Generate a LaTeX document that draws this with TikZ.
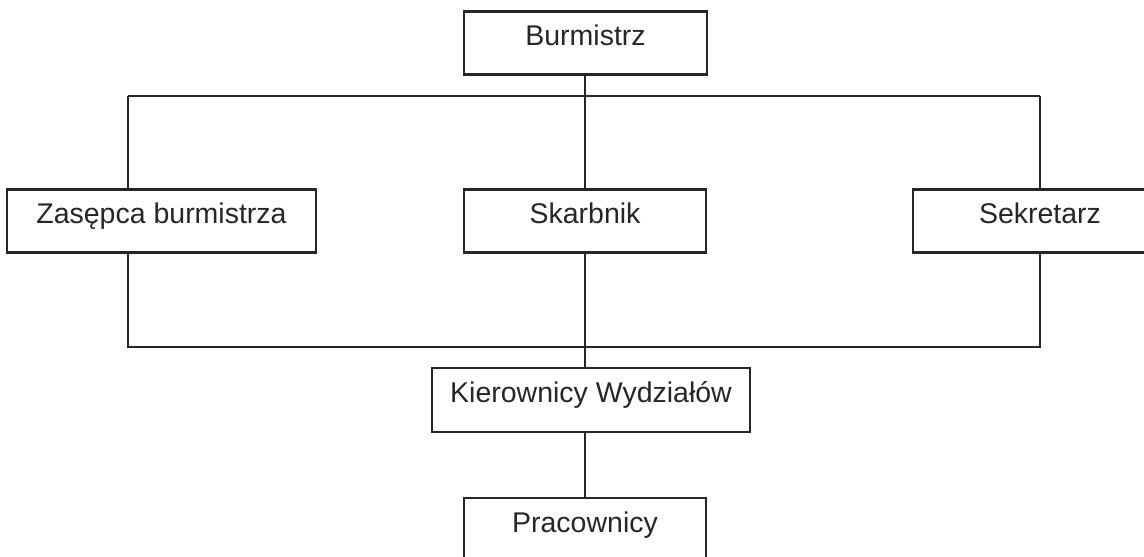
\documentclass[tikz,border=0pt]{standalone}
\usepackage{fontspec}
\setmainfont{Liberation Sans}
\begin{document}
\begin{tikzpicture}[x=1pt,y=-1pt,
  box/.style={draw=black!85, line width=2.4pt, inner sep=0pt, font=\fontsize{28.5}{33}\selectfont, text=black!85, minimum height=63pt, text height=0.72em, text depth=0.25em},
  conn/.style={draw=black!85, line width=2.4pt}]
\useasboundingbox (0,0) rectangle (1144,557);
\clip (0,0) rectangle (1144,557);
\node[box, minimum width=243pt] (B) at (585.5,43) {Burmistrz};
\node[box, minimum width=309pt] (Z) at (161.5,221) {Zasępca burmistrza};
\node[box, minimum width=242pt] (S) at (585,221) {Skarbnik};
\node[box, minimum width=254pt] (K) at (1040,221) {Sekretarz};
\node[box, minimum width=318pt, minimum height=64pt] (W) at (591,400) {Kierownicy Wydziałów};
\node[box, minimum width=242pt, minimum height=64pt] (P) at (585,530) {Pracownicy};
\coordinate (t) at (585,96);
\coordinate (tl) at (128,96);
\coordinate (tr) at (1040,96);
\coordinate (bl) at (128,347);
\coordinate (br) at (1040,347);
\coordinate (bm) at (585,347);
\draw[conn] (B.south -| t) -- (t);
\draw[conn] (tl) -- (tr);
\draw[conn] (tl) -- (tl |- Z.north);
\draw[conn] (t) -- (t |- S.north);
\draw[conn] (tr) -- (tr |- K.north);
\draw[conn] (bl |- Z.south) -- (bl) -- (br) -- (br |- K.south);
\draw[conn] (bm |- S.south) -- (bm);
\draw[conn] (bm) -- (bm |- W.north);
\draw[conn] (bm |- W.south) -- (bm |- P.north);
\end{tikzpicture}
\end{document}
